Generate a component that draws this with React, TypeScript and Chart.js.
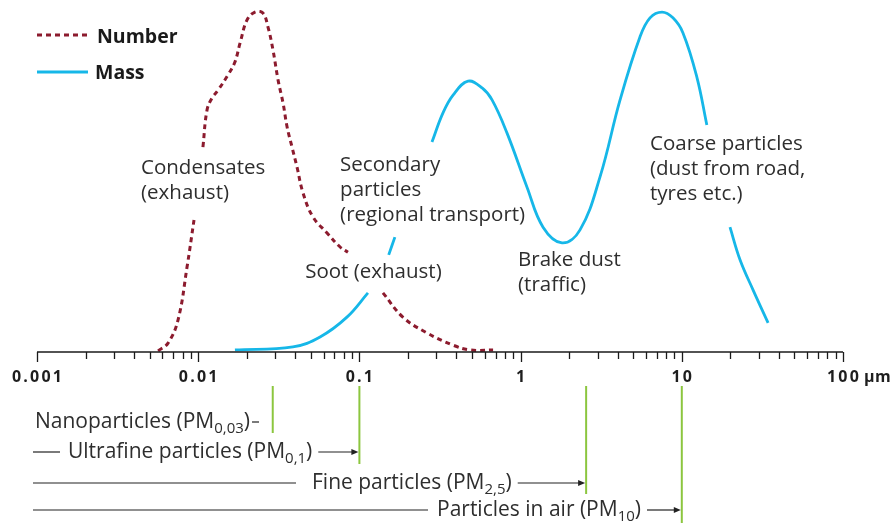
import React, { useEffect, useRef } from "react";
import { Chart, registerables } from "chart.js";

Chart.register(...registerables);

// Particle diameter (µm) and relative distribution values (0-100)
const numberSize = [0.00564, 0.0065, 0.0075, 0.00853, 0.00942, 0.0101, 0.0107, 0.01135, 0.0122, 0.0133, 0.0153, 0.0169, 0.0182, 0.0201, 0.0225, 0.0252, 0.0271, 0.0291, 0.0313, 0.0336, 0.0356, 0.0382, 0.041, 0.0447, 0.0515, 0.063, 0.0759, 0.0849, 0.11, 0.14, 0.186, 0.262, 0.381, 0.485, 0.675];
const numberValue: (number | null)[] = [0.3, 2.6, 9.4, 24.9, 38.6, null, 59.9, 70.8, 74.3, 76.6, 81.0, 84.8, 90.4, 97.1, 99.4, 99.1, 95.0, 88.3, 79.5, 72.8, 65.8, 59.9, 54.1, 46.5, 39.5, 34.8, 30.7, 29.2, null, 17.3, 10.2, 5.6, 2.0, 0.6, 0.6];

const massSize = [0.0169, 0.0387, 0.057, 0.0837, 0.113, 0.13, 0.152, 0.166, 0.22, 0.282, 0.33, 0.381, 0.472, 0.577, 0.665, 0.824, 1.096, 1.378, 1.807, 2.337, 3.11, 4.14, 5.5, 6.35, 7.54, 8.81, 10.17, 12.4, 14.3, 17, 19.9, 23.0, 27.7, 34.3];
const massValue: (number | null)[] = [0.6, 1.5, 4.4, 10.2, 17.3, null, 28.4, 33.6, null, 61.4, 69.9, 75.1, 79.2, 77.2, 73.7, 64.0, 48.2, 36.5, 31.9, 35.7, 51.2, 73.7, 92.1, 97.7, 99.4, 97.7, 93.3, 80.4, 66.4, null, 36.5, 26.9, 18.1, 8.5];

const tickValues = [0.001, 0.01, 0.1, 1, 10, 100];
const tickLabels = ["0.001", "0.01", "0.1", "1", "10", "100"];
const unitLabel = "µm";

const seriesNames = ["Number", "Mass"];

// PM size thresholds (µm)
const pmLimits = [0.029, 0.1, 2.55, 10];
const pmNames = ["Nanoparticles (PM", "Ultrafine particles (PM", "Fine particles (PM", "Particles in air (PM"];
const pmSubs = ["0,03", "0,1", "2,5", "10"];

const sourceLabels = [
  { size: 0.00442, value: 53.8, lines: ["Condensates", "(exhaust)"] },
  { size: 0.0759, value: 54.7, lines: ["Secondary", "particles", "(regional transport)"] },
  { size: 0.0461, value: 23.4, lines: ["Soot (exhaust)"] },
  { size: 0.964, value: 26.9, lines: ["Brake dust", "(traffic)"] },
  { size: 6.35, value: 60.8, lines: ["Coarse particles", "(dust from road,", "tyres etc.)"] },
];

const RED = "#8c1b2e";
const CYAN = "#16b7e8";
const GREEN = "#8cc63f";
const TEXT = "#2e2e2e";
const FONT = "'Open Sans', sans-serif";

export default function App() {
  const ref = useRef<HTMLCanvasElement | null>(null);

  useEffect(() => {
    document.body.style.margin = "0";
    const canvas = ref.current;
    if (!canvas) return;

    const overlay = {
      id: "overlay",
      afterDatasetsDraw(chart: any) {
        const ctx: any = chart.ctx;
        const xs = chart.scales.x;
        const ys = chart.scales.y;
        const area = chart.chartArea;
        const axisY = area.bottom;
        ctx.save();

        // axis line
        ctx.strokeStyle = "#1a1a1a";
        ctx.lineWidth = 1.5;
        ctx.beginPath();
        ctx.moveTo(area.left, axisY);
        ctx.lineTo(area.right, axisY);
        ctx.stroke();

        // ticks
        ctx.lineWidth = 1.3;
        for (let d = 0; d < tickValues.length; d++) {
          const base = tickValues[d];
          const maxM = d === tickValues.length - 1 ? 1 : 9;
          for (let m = 1; m <= maxM; m++) {
            const px = Math.round(xs.getPixelForValue(base * m)) + 0.5;
            ctx.beginPath();
            ctx.moveTo(px, axisY);
            ctx.lineTo(px, axisY + (m === 1 ? 10 : 7));
            ctx.stroke();
          }
        }

        // tick labels
        ctx.fillStyle = "#1e1e1e";
        ctx.font = `bold 16px ${FONT}`;
        ctx.letterSpacing = "2.2px";
        ctx.textAlign = "center";
        ctx.textBaseline = "middle";
        tickValues.forEach((v, i) => {
          ctx.fillText(tickLabels[i], xs.getPixelForValue(v) + 1, axisY + 25);
        });
        const lastX = xs.getPixelForValue(tickValues[tickValues.length - 1]);
        const lastW = ctx.measureText(tickLabels[tickLabels.length - 1]).width;
        ctx.textAlign = "left";
        ctx.letterSpacing = "0.5px";
        ctx.fillText(unitLabel, lastX + lastW / 2 + 4, axisY + 25);
        ctx.letterSpacing = "0px";

        // source labels
        ctx.font = `20.5px ${FONT}`;
        ctx.fillStyle = TEXT;
        ctx.textAlign = "left";
        sourceLabels.forEach((l) => {
          const x = xs.getPixelForValue(l.size);
          const y = ys.getPixelForValue(l.value);
          l.lines.forEach((t: string, i: number) => ctx.fillText(t, x, y + i * 25));
        });

        // legend
        ctx.lineWidth = 3;
        ctx.strokeStyle = RED;
        ctx.setLineDash([5, 4]);
        ctx.beginPath();
        ctx.moveTo(37, 35);
        ctx.lineTo(89, 35);
        ctx.stroke();
        ctx.setLineDash([]);
        ctx.strokeStyle = CYAN;
        ctx.beginPath();
        ctx.moveTo(37, 72);
        ctx.lineTo(88, 72);
        ctx.stroke();
        ctx.font = `bold 19.5px ${FONT}`;
        ctx.fillStyle = "#1a1a1a";
        ctx.fillText(seriesNames[0], 97, 37);
        ctx.fillText(seriesNames[1], 95, 73);

        // PM limit lines
        const greenTop = 386;
        const greenBottoms = [433, 464, 494, 523];
        ctx.strokeStyle = GREEN;
        ctx.lineWidth = 2;
        pmLimits.forEach((v, i) => {
          const px = xs.getPixelForValue(v);
          ctx.beginPath();
          ctx.moveTo(px, greenTop);
          ctx.lineTo(px, greenBottoms[i]);
          ctx.stroke();
        });

        // PM rows
        const rowY = [422, 452, 483, 510];
        const textStart = [35, 68, 312, 437];
        const leadEnd = [0, 60, 296, 428];
        const drawLabel = (name: string, sub: string, x: number, y: number) => {
          ctx.font = `21px ${FONT}`;
          ctx.fillStyle = TEXT;
          ctx.textAlign = "left";
          ctx.textBaseline = "middle";
          ctx.fillText(name, x, y);
          let cx = x + ctx.measureText(name).width;
          ctx.font = `15px ${FONT}`;
          ctx.fillText(sub, cx, y + 7);
          cx += ctx.measureText(sub).width;
          ctx.font = `21px ${FONT}`;
          ctx.fillText(")", cx, y);
          cx += ctx.measureText(")").width;
          return cx;
        };
        pmNames.forEach((name, i) => {
          const y = rowY[i];
          const end = drawLabel(name, pmSubs[i], textStart[i], y);
          const gx = xs.getPixelForValue(pmLimits[i]);
          ctx.strokeStyle = "#222";
          ctx.fillStyle = "#222";
          ctx.lineWidth = 1.2;
          if (i === 0) {
            ctx.beginPath();
            ctx.moveTo(end + 2, y);
            ctx.lineTo(Math.min(end + 9, gx - 4), y);
            ctx.stroke();
            return;
          }
          // lead line
          ctx.beginPath();
          ctx.moveTo(33, y);
          ctx.lineTo(leadEnd[i], y);
          ctx.stroke();
          // arrow
          const ax0 = end + 6;
          const ax1 = gx - 1;
          ctx.beginPath();
          ctx.moveTo(ax0, y);
          ctx.lineTo(ax1 - 5, y);
          ctx.stroke();
          ctx.beginPath();
          ctx.moveTo(ax1, y);
          ctx.lineTo(ax1 - 7, y - 3);
          ctx.lineTo(ax1 - 7, y + 3);
          ctx.closePath();
          ctx.fill();
        });

        ctx.restore();
      },
    };

    const chart = new Chart(canvas, {
      type: "line",
      data: {
        datasets: [
          {
            label: seriesNames[0],
            data: numberSize.map((x, i) => ({ x, y: numberValue[i] })) as any,
            borderColor: RED,
            borderWidth: 3,
            borderDash: [5, 4],
            borderCapStyle: "butt",
            pointRadius: 0,
            fill: false,
            spanGaps: false,
            tension: 0.4,
          },
          {
            label: seriesNames[1],
            data: massSize.map((x, i) => ({ x, y: massValue[i] })) as any,
            borderColor: CYAN,
            borderWidth: 2.8,
            pointRadius: 0,
            fill: false,
            spanGaps: false,
            tension: 0.4,
          },
        ],
      },
      options: {
        animation: false,
        responsive: false,
        devicePixelRatio: 1,
        layout: { padding: { left: 37, right: 49, top: 10, bottom: 171 } },
        scales: {
          x: { type: "logarithmic", min: 0.001, max: 100, display: false },
          y: { type: "linear", min: 0, max: 100, display: false },
        },
        plugins: { legend: { display: false }, tooltip: { enabled: false } },
      },
      plugins: [overlay],
    });

    return () => chart.destroy();
  }, []);

  return (
    <div style={{ width: 892, height: 523, background: "#fff" }}>
      <canvas ref={ref} width={892} height={523} />
    </div>
  );
}
